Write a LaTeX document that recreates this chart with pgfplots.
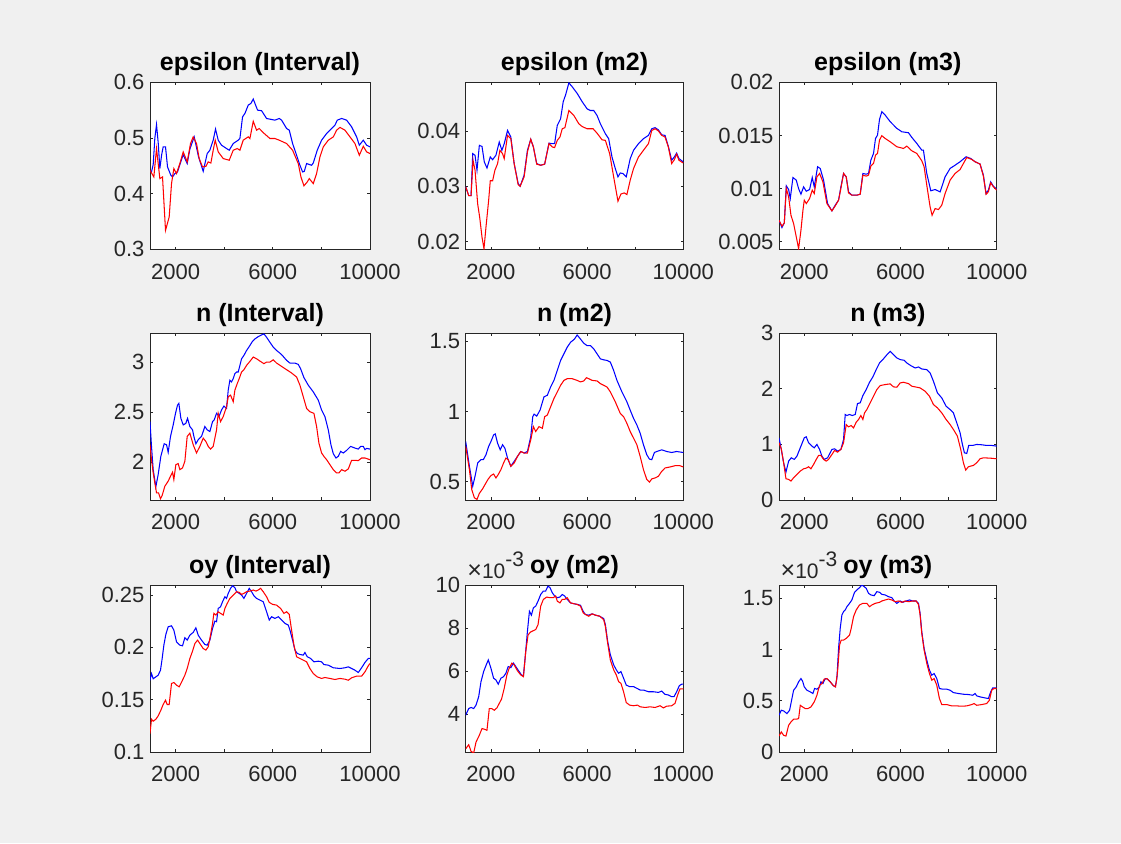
\documentclass[border=0pt]{standalone}
\usepackage{fontspec}
\setmainfont{Liberation Sans}
\usepackage{pgfplots}
\pgfplotsset{compat=1.18}
\definecolor{bggray}{HTML}{F0F0F0}
\definecolor{axisgray}{HTML}{262626}
\definecolor{mblue}{rgb}{0,0,1}
\definecolor{mred}{rgb}{1,0,0}
\pgfplotsset{
  mstyle/.style={
    scale only axis, anchor=north west, height=167pt,
    xmin=950, xmax=10000, clip mode=individual,
    xtick={2000,4000,6000,8000,10000}, xticklabels={2000,,6000,,10000},
    tick align=inside, tick pos=both, major tick length=2.6pt,
    axis line style={draw=axisgray, line width=0.9pt},
    tick style={axisgray, line width=0.9pt},
    tick label style={font=\fontsize{22}{22}\selectfont, text=axisgray},
    xticklabel style={yshift=-11pt},
    yticklabel style={xshift=-2pt},
    title style={font=\fontsize{25}{25}\selectfont\bfseries, at={(0.5,1)}, anchor=base, yshift=5.5pt},
    axis background/.style={fill=white},
    scaled ticks=false,
    every axis plot/.append style={line width=1.05pt, mark=none},
  },
  c1/.style={mstyle, width=220pt},
  c2/.style={mstyle, width=217.6pt},
  c3/.style={mstyle, width=217.7pt},
}
\newcommand{\expo}{\node[anchor=base west, font=\fontsize{21}{21}\selectfont, text=axisgray, inner sep=0pt] at (rel axis cs:0,1) [xshift=1.5pt, yshift=7pt] {{\fontsize{25}{25}\selectfont ×}10\raisebox{0.55em}{-3}};}
\begin{document}
\begin{tikzpicture}[x=1pt,y=1pt]
\fill[bggray] (0,0) rectangle (1121,-843);

% ---------------- Row 1 ----------------
\begin{axis}[c1, at={(150pt,-82.3pt)}, title={epsilon (Interval)},
  ymin=0.3, ymax=0.6, ytick={0.3,0.4,0.5,0.6}, yticklabels={0.3,0.4,0.5,0.6}]
\addplot[mblue] coordinates {(950,0.440)(1012,0.439)(1081,0.452)(1150,0.500)(1218,0.524)(1290,0.490)(1355,0.445)(1430,0.470)(1492,0.484)(1588,0.484)(1671,0.448)(1808,0.433)(1877,0.430)(1973,0.436)(2082,0.439)(2200,0.455)(2316,0.470)(2480,0.454)(2590,0.480)(2768,0.502)(2947,0.466)(3139,0.440)(3303,0.472)(3413,0.478)(3550,0.496)(3646,0.516)(3756,0.496)(3893,0.487)(4099,0.481)(4209,0.478)(4374,0.490)(4579,0.496)(4648,0.499)(4758,0.538)(4854,0.544)(4991,0.559)(5101,0.562)(5197,0.570)(5375,0.550)(5540,0.549)(5746,0.535)(6089,0.532)(6267,0.535)(6363,0.532)(6569,0.517)(6679,0.514)(6816,0.490)(6980,0.469)(7118,0.451)(7227,0.439)(7296,0.440)(7392,0.454)(7598,0.451)(7666,0.455)(7830,0.478)(8009,0.496)(8215,0.508)(8421,0.517)(8558,0.523)(8654,0.532)(8833,0.535)(9038,0.532)(9244,0.520)(9450,0.502)(9560,0.487)(9724,0.496)(9861,0.487)(10000,0.484)};
\addplot[mred] coordinates {(950,0.442)(1108,0.430)(1218,0.481)(1355,0.427)(1465,0.430)(1588,0.334)(1739,0.358)(1835,0.418)(1931,0.445)(2041,0.436)(2178,0.454)(2316,0.475)(2480,0.457)(2617,0.490)(2727,0.502)(2864,0.490)(2974,0.463)(3111,0.448)(3249,0.449)(3345,0.457)(3454,0.455)(3550,0.478)(3633,0.496)(3756,0.475)(3962,0.463)(4209,0.460)(4374,0.478)(4538,0.481)(4648,0.478)(4785,0.496)(4991,0.502)(5060,0.499)(5197,0.530)(5334,0.514)(5444,0.517)(5650,0.508)(5883,0.499)(6089,0.499)(6267,0.496)(6569,0.490)(6816,0.478)(7049,0.454)(7159,0.430)(7282,0.414)(7419,0.421)(7502,0.427)(7666,0.418)(7803,0.436)(7941,0.466)(8078,0.484)(8284,0.496)(8490,0.502)(8627,0.514)(8764,0.519)(8970,0.514)(9176,0.502)(9381,0.490)(9560,0.469)(9724,0.485)(9861,0.475)(10000,0.472)};
\end{axis}

\begin{axis}[c2, at={(465.7pt,-82.3pt)}, title={epsilon (m2)},
  ymin=0.0186, ymax=0.0488, ytick={0.02,0.03,0.04}, yticklabels={0.02,0.03,0.04}]
\addplot[mblue] coordinates {(950,0.0299)(1076,0.0283)(1173,0.0283)(1242,0.0359)(1338,0.0356)(1420,0.0329)(1517,0.0374)(1628,0.0372)(1724,0.0344)(1835,0.0333)(1972,0.0353)(2069,0.0348)(2207,0.0356)(2345,0.0380)(2455,0.0365)(2552,0.0377)(2690,0.0401)(2827,0.0389)(2965,0.0341)(3131,0.0305)(3214,0.0300)(3379,0.0320)(3517,0.0365)(3655,0.0385)(3765,0.0371)(3903,0.0341)(4069,0.0338)(4234,0.0340)(4413,0.0378)(4551,0.0377)(4648,0.0377)(4758,0.0410)(4896,0.0422)(5006,0.0453)(5103,0.0465)(5241,0.0487)(5379,0.0480)(5585,0.0468)(5792,0.0453)(5999,0.0440)(6137,0.0437)(6275,0.0437)(6413,0.0428)(6551,0.0413)(6758,0.0395)(6896,0.0386)(7034,0.0353)(7172,0.0332)(7282,0.0317)(7379,0.0324)(7489,0.0323)(7626,0.0317)(7792,0.0350)(7930,0.0365)(8137,0.0377)(8343,0.0386)(8550,0.0392)(8688,0.0404)(8826,0.0406)(8964,0.0402)(9102,0.0393)(9240,0.0392)(9378,0.0372)(9516,0.0347)(9626,0.0353)(9722,0.0360)(9819,0.0350)(10000,0.0344)};
\addplot[mred] coordinates {(950,0.0299)(1076,0.0283)(1173,0.0283)(1255,0.0347)(1338,0.0329)(1448,0.0268)(1531,0.0244)(1628,0.0208)(1710,0.0187)(1793,0.0226)(1903,0.0274)(1972,0.0310)(2069,0.0310)(2165,0.0329)(2276,0.0341)(2372,0.0365)(2483,0.0359)(2552,0.0350)(2690,0.0392)(2827,0.0386)(2965,0.0341)(3131,0.0303)(3214,0.0300)(3379,0.0317)(3517,0.0362)(3655,0.0385)(3765,0.0371)(3903,0.0340)(4069,0.0338)(4234,0.0340)(4413,0.0377)(4551,0.0371)(4648,0.0370)(4758,0.0383)(4869,0.0389)(4965,0.0404)(5075,0.0406)(5241,0.0437)(5448,0.0428)(5654,0.0413)(5792,0.0408)(5999,0.0404)(6247,0.0404)(6413,0.0396)(6620,0.0384)(6758,0.0383)(6937,0.0359)(7103,0.0317)(7282,0.0273)(7406,0.0286)(7544,0.0288)(7654,0.0285)(7792,0.0311)(7930,0.0332)(8137,0.0353)(8343,0.0365)(8550,0.0377)(8688,0.0401)(8826,0.0404)(8964,0.0400)(9102,0.0392)(9240,0.0389)(9378,0.0371)(9516,0.0341)(9626,0.0348)(9722,0.0358)(9819,0.0347)(10000,0.0342)};
\end{axis}

\begin{axis}[c3, at={(779pt,-82.3pt)}, title={epsilon (m3)},
  ymin=0.0043, ymax=0.02, ytick={0.005,0.01,0.015,0.02}, yticklabels={0.005,0.01,0.015,0.02}]
\addplot[mblue] coordinates {(950,0.00703)(1073,0.00634)(1170,0.00678)(1253,0.01027)(1350,0.00992)(1419,0.00907)(1529,0.01105)(1668,0.01080)(1765,0.01000)(1862,0.00948)(1972,0.01017)(2083,0.00976)(2221,0.00992)(2332,0.01105)(2415,0.01017)(2554,0.01206)(2664,0.01190)(2803,0.01080)(2969,0.00860)(3149,0.00791)(3287,0.00845)(3426,0.00892)(3522,0.01017)(3633,0.01143)(3744,0.01111)(3841,0.00970)(3979,0.00939)(4187,0.00939)(4325,0.00948)(4436,0.01143)(4574,0.01136)(4671,0.01143)(4768,0.01268)(4879,0.01331)(4962,0.01472)(5045,0.01504)(5128,0.01651)(5225,0.01724)(5363,0.01692)(5571,0.01630)(5848,0.01567)(6055,0.01535)(6332,0.01526)(6471,0.01482)(6679,0.01425)(6885,0.01362)(6954,0.01362)(7093,0.01143)(7259,0.00980)(7439,0.00992)(7647,0.00970)(7854,0.01111)(8062,0.01190)(8270,0.01221)(8477,0.01253)(8726,0.01300)(8920,0.01284)(9100,0.01253)(9308,0.01231)(9446,0.01127)(9557,0.00954)(9654,0.00986)(9750,0.01064)(9861,0.01023)(10000,0.00996)};
\addplot[mred] coordinates {(950,0.00703)(1073,0.00647)(1170,0.00678)(1253,0.01002)(1350,0.00923)(1447,0.00750)(1557,0.00672)(1668,0.00546)(1765,0.00436)(1862,0.00609)(1945,0.00797)(2000,0.00892)(2083,0.00860)(2221,0.00907)(2332,0.00986)(2415,0.00954)(2526,0.01111)(2637,0.01143)(2775,0.01064)(2941,0.00860)(3149,0.00791)(3287,0.00838)(3426,0.00892)(3522,0.01002)(3633,0.01143)(3744,0.01111)(3841,0.00960)(3979,0.00939)(4187,0.00939)(4325,0.00948)(4436,0.01127)(4574,0.01118)(4671,0.01127)(4768,0.01212)(4879,0.01237)(4962,0.01315)(5045,0.01331)(5128,0.01457)(5225,0.01498)(5363,0.01472)(5571,0.01441)(5848,0.01394)(6124,0.01378)(6263,0.01400)(6471,0.01356)(6679,0.01331)(6885,0.01262)(6982,0.01206)(7093,0.01033)(7231,0.00829)(7314,0.00750)(7439,0.00813)(7578,0.00804)(7716,0.00845)(7854,0.00954)(8062,0.01080)(8270,0.01143)(8477,0.01180)(8754,0.01293)(8962,0.01275)(9100,0.01253)(9308,0.01231)(9446,0.01118)(9557,0.00948)(9654,0.00970)(9750,0.01055)(9861,0.01017)(10000,0.00986)};
\end{axis}

% ---------------- Row 2 ----------------
\begin{axis}[c1, at={(150pt,-333pt)}, title={n (Interval)},
  ymin=1.624, ymax=3.29, ytick={2,2.5,3}, yticklabels={2,2.5,3}]
\addplot[mblue] coordinates {(950,2.406)(1012,2.158)(1081,1.927)(1190,1.756)(1286,1.878)(1396,2.060)(1533,2.185)(1630,2.175)(1698,2.100)(1794,2.258)(1904,2.373)(2000,2.489)(2082,2.571)(2137,2.588)(2220,2.439)(2316,2.373)(2425,2.389)(2494,2.439)(2590,2.357)(2700,2.324)(2755,2.258)(2837,2.185)(2933,2.225)(3070,2.258)(3207,2.357)(3303,2.324)(3413,2.307)(3523,2.406)(3591,2.423)(3688,2.489)(3797,2.462)(3893,2.522)(3989,2.561)(4099,2.538)(4168,2.720)(4236,2.819)(4305,2.802)(4374,2.835)(4442,2.885)(4511,2.901)(4579,2.901)(4648,2.967)(4717,3.033)(4813,3.066)(4923,3.116)(5032,3.155)(5169,3.208)(5265,3.231)(5403,3.254)(5540,3.271)(5636,3.281)(5746,3.248)(5883,3.198)(6020,3.149)(6157,3.116)(6294,3.089)(6432,3.056)(6569,3.017)(6706,2.990)(6912,2.990)(7049,2.977)(7145,2.934)(7282,2.845)(7461,2.769)(7666,2.703)(7872,2.620)(8009,2.522)(8146,2.456)(8284,2.324)(8393,2.175)(8490,2.086)(8600,2.043)(8696,2.060)(8792,2.109)(8901,2.093)(9038,2.119)(9203,2.159)(9381,2.142)(9518,2.132)(9615,2.159)(9724,2.159)(9793,2.126)(9861,2.139)(10000,2.132)};
\addplot[mred] coordinates {(950,2.175)(1012,2.027)(1081,1.895)(1149,1.795)(1218,1.696)(1300,1.696)(1382,1.637)(1451,1.670)(1561,1.762)(1698,1.812)(1794,1.861)(1877,1.901)(1931,1.828)(2014,1.977)(2110,1.987)(2178,1.927)(2288,1.944)(2384,2.010)(2480,2.258)(2590,2.291)(2727,2.175)(2864,2.093)(3001,2.159)(3139,2.241)(3249,2.208)(3345,2.159)(3441,2.132)(3550,2.159)(3688,2.324)(3756,2.489)(3852,2.406)(3962,2.456)(4099,2.555)(4168,2.654)(4264,2.670)(4374,2.604)(4442,2.720)(4538,2.785)(4620,2.835)(4717,2.901)(4813,2.924)(4923,2.967)(5060,3.007)(5197,3.050)(5334,3.033)(5471,3.010)(5636,2.984)(5746,3.000)(5883,3.000)(6020,3.023)(6157,2.990)(6363,2.957)(6569,2.924)(6775,2.891)(6980,2.851)(7118,2.769)(7255,2.654)(7392,2.538)(7529,2.505)(7694,2.488)(7803,2.357)(7899,2.191)(8009,2.093)(8105,2.059)(8215,2.026)(8352,1.977)(8490,1.927)(8627,1.894)(8723,1.894)(8833,1.927)(8970,1.911)(9107,1.934)(9244,2.020)(9381,2.020)(9518,2.017)(9655,2.043)(9793,2.043)(10000,2.026)};
\end{axis}

\begin{axis}[c2, at={(465.7pt,-333pt)}, title={n (m2)},
  ymin=0.371, ymax=1.559, ytick={0.5,1,1.5}, yticklabels={0.5,1,1.5}]
\addplot[mblue] coordinates {(950,0.787)(1104,0.611)(1242,0.469)(1338,0.540)(1448,0.634)(1586,0.658)(1683,0.658)(1793,0.693)(1903,0.752)(2000,0.787)(2110,0.834)(2179,0.841)(2276,0.775)(2386,0.728)(2483,0.764)(2579,0.740)(2690,0.669)(2827,0.611)(2965,0.646)(3103,0.681)(3241,0.716)(3379,0.705)(3517,0.716)(3655,0.822)(3738,0.963)(3793,0.982)(3903,0.968)(4041,1.010)(4206,1.105)(4344,1.116)(4482,1.175)(4620,1.222)(4758,1.293)(4896,1.364)(5034,1.411)(5172,1.458)(5310,1.493)(5475,1.516)(5585,1.545)(5723,1.516)(5861,1.486)(5999,1.469)(6137,1.469)(6275,1.446)(6413,1.411)(6551,1.375)(6689,1.368)(6827,1.364)(6965,1.352)(7103,1.293)(7241,1.222)(7447,1.140)(7654,1.069)(7792,1.010)(7930,0.952)(8068,0.905)(8206,0.846)(8343,0.764)(8481,0.693)(8592,0.662)(8688,0.658)(8798,0.709)(8895,0.716)(9102,0.728)(9309,0.716)(9516,0.709)(9722,0.716)(10000,0.709)};
\addplot[mred] coordinates {(950,0.752)(1104,0.587)(1200,0.446)(1310,0.387)(1421,0.375)(1517,0.418)(1655,0.451)(1793,0.493)(1890,0.521)(2000,0.545)(2110,0.556)(2207,0.528)(2303,0.552)(2414,0.587)(2524,0.634)(2621,0.669)(2717,0.658)(2827,0.611)(2965,0.634)(3103,0.681)(3241,0.716)(3379,0.705)(3517,0.705)(3655,0.799)(3765,0.893)(3862,0.858)(4000,0.893)(4138,0.881)(4234,0.964)(4344,0.975)(4482,1.034)(4620,1.093)(4758,1.140)(4896,1.187)(5034,1.222)(5172,1.234)(5379,1.234)(5585,1.222)(5723,1.211)(5861,1.218)(5971,1.241)(6068,1.234)(6206,1.222)(6413,1.218)(6551,1.199)(6689,1.187)(6827,1.175)(6965,1.140)(7172,1.069)(7379,0.987)(7516,0.964)(7654,0.916)(7792,0.858)(7930,0.811)(8068,0.764)(8206,0.681)(8343,0.587)(8481,0.517)(8592,0.498)(8688,0.521)(8826,0.528)(8964,0.540)(9102,0.575)(9240,0.599)(9447,0.606)(9654,0.615)(9860,0.615)(10000,0.606)};
\end{axis}

\begin{axis}[c3, at={(779pt,-333pt)}, title={n (m3)},
  ymin=0, ymax=3, ytick={0,1,2,3}, yticklabels={0,1,2,3}]
\addplot[mblue] coordinates {(950,1.117)(1045,0.908)(1142,0.669)(1239,0.501)(1350,0.699)(1460,0.758)(1585,0.729)(1696,0.788)(1806,0.908)(1917,1.027)(2000,1.117)(2083,1.135)(2180,1.027)(2318,0.968)(2415,0.938)(2526,0.998)(2637,0.908)(2734,0.788)(2830,0.729)(2969,0.758)(3149,0.908)(3259,0.920)(3384,0.878)(3522,0.908)(3633,1.087)(3702,1.536)(3772,1.518)(3882,1.536)(3993,1.518)(4118,1.536)(4214,1.733)(4325,1.745)(4436,1.876)(4574,1.984)(4713,2.115)(4851,2.211)(4990,2.342)(5128,2.462)(5266,2.522)(5405,2.594)(5571,2.671)(5709,2.611)(5848,2.552)(5986,2.522)(6152,2.510)(6263,2.462)(6429,2.414)(6609,2.372)(6747,2.390)(6885,2.354)(7093,2.342)(7231,2.283)(7370,2.133)(7536,1.924)(7716,1.834)(7896,1.685)(8062,1.625)(8200,1.565)(8339,1.386)(8477,1.207)(8574,0.998)(8657,0.848)(8754,0.836)(8837,0.980)(9003,0.980)(9169,0.998)(9377,0.992)(9584,0.980)(9792,0.980)(10000,0.968)};
\addplot[mred] coordinates {(950,1.027)(1045,0.920)(1142,0.669)(1239,0.382)(1350,0.370)(1447,0.340)(1557,0.400)(1696,0.460)(1834,0.519)(1972,0.561)(2083,0.573)(2180,0.597)(2277,0.561)(2387,0.639)(2498,0.729)(2595,0.800)(2692,0.800)(2803,0.729)(2913,0.699)(3010,0.729)(3149,0.818)(3259,0.890)(3384,0.860)(3522,0.908)(3633,1.027)(3744,1.356)(3841,1.314)(3951,1.338)(4048,1.296)(4159,1.398)(4256,1.446)(4353,1.518)(4436,1.446)(4505,1.565)(4602,1.625)(4740,1.745)(4879,1.864)(5017,1.984)(5156,2.056)(5363,2.074)(5571,2.086)(5709,2.032)(5848,2.026)(5986,2.103)(6124,2.115)(6332,2.091)(6471,2.044)(6609,2.032)(6816,2.014)(7024,1.954)(7204,1.864)(7370,1.715)(7536,1.655)(7716,1.565)(7896,1.446)(8062,1.356)(8200,1.267)(8366,1.147)(8505,0.908)(8615,0.669)(8712,0.537)(8823,0.597)(8920,0.609)(9031,0.621)(9169,0.669)(9308,0.741)(9446,0.758)(9723,0.752)(10000,0.741)};
\end{axis}

% ---------------- Row 3 ----------------
\begin{axis}[c1, at={(150pt,-585pt)}, title={oy (Interval)},
  ymin=0.1, ymax=0.2596, ytick={0.1,0.15,0.2,0.25}, yticklabels={0.1,0.15,0.2,0.25}]
\addplot[mblue] coordinates {(950,0.1686)(1012,0.1750)(1081,0.1700)(1190,0.1718)(1286,0.1734)(1382,0.1782)(1451,0.1894)(1520,0.2021)(1602,0.2124)(1698,0.2197)(1835,0.2206)(1931,0.2165)(2041,0.2053)(2178,0.2021)(2288,0.2015)(2384,0.2092)(2480,0.2069)(2590,0.2117)(2727,0.2143)(2837,0.2187)(2933,0.2117)(3070,0.2069)(3207,0.2028)(3303,0.2021)(3413,0.2069)(3523,0.2181)(3619,0.2251)(3688,0.2245)(3756,0.2372)(3852,0.2388)(3934,0.2436)(4030,0.2484)(4099,0.2468)(4168,0.2516)(4264,0.2564)(4346,0.2589)(4442,0.2570)(4511,0.2532)(4620,0.2516)(4717,0.2500)(4813,0.2468)(4923,0.2516)(5032,0.2564)(5128,0.2532)(5224,0.2494)(5334,0.2468)(5471,0.2452)(5609,0.2436)(5677,0.2388)(5746,0.2340)(5856,0.2261)(5952,0.2293)(6089,0.2277)(6226,0.2293)(6363,0.2261)(6500,0.2229)(6638,0.2213)(6706,0.2165)(6816,0.2069)(6912,0.1974)(7008,0.1942)(7118,0.1932)(7255,0.1926)(7323,0.1951)(7419,0.1910)(7557,0.1894)(7694,0.1862)(7872,0.1868)(8009,0.1862)(8105,0.1836)(8284,0.1830)(8490,0.1805)(8764,0.1798)(8970,0.1805)(9107,0.1814)(9244,0.1798)(9381,0.1782)(9518,0.1760)(9655,0.1805)(9793,0.1856)(9930,0.1894)(10000,0.1894)};
\addplot[mred] coordinates {(950,0.1176)(1012,0.1313)(1081,0.1294)(1190,0.1313)(1286,0.1345)(1396,0.1399)(1492,0.1454)(1588,0.1495)(1657,0.1454)(1739,0.1454)(1835,0.1655)(1931,0.1664)(2041,0.1639)(2151,0.1623)(2288,0.1687)(2384,0.1734)(2480,0.1798)(2590,0.1894)(2700,0.1964)(2796,0.2037)(2906,0.2069)(3001,0.2037)(3139,0.1989)(3249,0.1974)(3345,0.2005)(3441,0.2117)(3523,0.2229)(3578,0.2325)(3660,0.2309)(3756,0.2340)(3852,0.2325)(3962,0.2309)(4030,0.2372)(4127,0.2420)(4236,0.2468)(4374,0.2500)(4511,0.2532)(4620,0.2526)(4717,0.2506)(4813,0.2516)(4923,0.2532)(5060,0.2538)(5197,0.2548)(5307,0.2538)(5403,0.2548)(5499,0.2564)(5609,0.2532)(5746,0.2484)(5856,0.2430)(5993,0.2411)(6157,0.2404)(6322,0.2372)(6459,0.2325)(6569,0.2340)(6679,0.2315)(6775,0.2165)(6871,0.2021)(6980,0.1910)(7118,0.1894)(7255,0.1878)(7392,0.1862)(7529,0.1798)(7666,0.1750)(7830,0.1718)(8009,0.1703)(8146,0.1712)(8352,0.1703)(8558,0.1693)(8764,0.1703)(8970,0.1696)(9107,0.1686)(9244,0.1709)(9450,0.1725)(9655,0.1725)(9793,0.1766)(9930,0.1824)(10000,0.1846)};
\end{axis}

\begin{axis}[c2, at={(465.7pt,-585pt)}, title={oy (m2)},
  ymin=2.24, ymax=10, ytick={4,6,8,10}, yticklabels={4,6,8,10}]
\addplot[mblue] coordinates {(950,3.95)(1076,4.26)(1173,4.31)(1283,4.26)(1379,4.42)(1490,4.81)(1586,5.51)(1697,5.98)(1793,6.26)(1890,6.52)(2000,6.13)(2110,5.67)(2207,5.59)(2303,5.39)(2414,5.67)(2524,5.74)(2621,5.90)(2717,6.21)(2827,6.16)(2938,6.37)(3034,6.21)(3172,5.98)(3269,5.82)(3351,5.79)(3420,6.60)(3517,7.85)(3600,8.78)(3682,8.60)(3765,8.94)(3862,9.02)(3958,9.25)(4069,9.56)(4179,9.72)(4275,9.72)(4372,9.95)(4455,9.88)(4551,9.64)(4648,9.49)(4758,9.41)(4868,9.44)(4965,9.56)(5062,9.49)(5172,9.33)(5310,9.17)(5448,9.13)(5585,9.10)(5723,9.06)(5834,8.78)(5930,8.63)(6068,8.60)(6206,8.66)(6344,8.60)(6523,8.55)(6689,8.44)(6758,8.16)(6854,7.38)(6965,6.76)(7103,6.29)(7213,6.06)(7309,5.90)(7406,5.98)(7516,5.67)(7626,5.35)(7764,5.28)(7930,5.28)(8068,5.20)(8206,5.12)(8343,5.12)(8550,5.04)(8757,5.04)(8964,5.01)(9102,5.07)(9240,4.92)(9378,4.89)(9516,4.81)(9612,4.81)(9722,5.04)(9833,5.32)(9930,5.39)(10000,5.39)};
\addplot[mred] coordinates {(950,2.39)(1076,2.58)(1173,2.27)(1283,2.20)(1379,2.70)(1517,3.02)(1628,3.33)(1724,3.30)(1834,3.25)(1931,4.26)(2028,4.26)(2138,4.18)(2248,4.29)(2345,4.50)(2441,4.70)(2552,5.20)(2662,5.82)(2758,6.13)(2869,6.37)(2965,6.29)(3103,6.01)(3241,5.82)(3351,5.74)(3448,6.91)(3545,7.69)(3655,7.82)(3765,7.88)(3862,7.93)(3958,8.16)(4069,9.02)(4179,9.33)(4317,9.44)(4455,9.41)(4593,9.41)(4689,9.49)(4758,9.25)(4868,9.17)(4965,9.33)(5062,9.33)(5172,9.41)(5310,9.17)(5448,9.13)(5585,9.10)(5723,9.02)(5834,8.71)(5930,8.63)(6068,8.55)(6206,8.66)(6344,8.60)(6523,8.55)(6689,8.39)(6758,8.08)(6854,7.30)(6965,6.52)(7103,6.06)(7213,5.82)(7309,5.51)(7406,5.43)(7516,5.04)(7626,4.54)(7764,4.42)(7930,4.39)(8096,4.42)(8206,4.34)(8412,4.31)(8619,4.34)(8826,4.31)(9033,4.39)(9171,4.29)(9309,4.37)(9516,4.39)(9654,4.50)(9764,4.89)(9860,5.17)(10000,5.17)};
\expo
\end{axis}

\begin{axis}[c3, at={(779pt,-585pt)}, title={oy (m3)},
  ymin=0, ymax=1.63, ytick={0,0.5,1,1.5}, yticklabels={0,0.5,1,1.5}]
\addplot[mblue] coordinates {(950,0.359)(1045,0.408)(1142,0.401)(1280,0.375)(1391,0.408)(1460,0.489)(1557,0.603)(1668,0.636)(1765,0.685)(1862,0.717)(1931,0.691)(2000,0.636)(2111,0.603)(2249,0.587)(2360,0.571)(2429,0.620)(2526,0.613)(2637,0.636)(2692,0.685)(2775,0.668)(2872,0.717)(2969,0.711)(3080,0.685)(3190,0.652)(3287,0.636)(3356,0.717)(3426,1.011)(3495,1.207)(3564,1.337)(3633,1.370)(3702,1.386)(3772,1.418)(3882,1.451)(3979,1.484)(4090,1.559)(4187,1.582)(4297,1.604)(4394,1.630)(4491,1.614)(4574,1.598)(4671,1.549)(4768,1.533)(4906,1.526)(5017,1.565)(5128,1.559)(5225,1.539)(5363,1.533)(5502,1.516)(5640,1.507)(5737,1.474)(5848,1.451)(5986,1.474)(6097,1.461)(6235,1.474)(6373,1.484)(6512,1.474)(6650,1.474)(6747,1.451)(6816,1.353)(6885,1.174)(6982,1.011)(7093,0.897)(7204,0.799)(7301,0.750)(7398,0.766)(7508,0.717)(7619,0.620)(7758,0.613)(7924,0.613)(8062,0.603)(8200,0.580)(8408,0.571)(8616,0.564)(8823,0.561)(9003,0.554)(9100,0.571)(9169,0.548)(9308,0.538)(9515,0.528)(9654,0.522)(9750,0.587)(9833,0.626)(10000,0.626)};
\addplot[mred] coordinates {(950,0.156)(1045,0.196)(1142,0.163)(1239,0.156)(1350,0.261)(1447,0.293)(1557,0.320)(1668,0.320)(1765,0.326)(1834,0.456)(1931,0.440)(2041,0.424)(2152,0.424)(2277,0.440)(2415,0.489)(2526,0.554)(2637,0.652)(2734,0.668)(2830,0.711)(2941,0.717)(3080,0.685)(3218,0.646)(3301,0.636)(3384,0.783)(3467,1.043)(3536,1.092)(3633,1.092)(3744,1.109)(3882,1.141)(3951,1.207)(4048,1.321)(4159,1.386)(4297,1.435)(4436,1.451)(4602,1.451)(4713,1.418)(4809,1.435)(4948,1.451)(5128,1.461)(5225,1.474)(5363,1.484)(5502,1.493)(5640,1.484)(5778,1.467)(5917,1.474)(6055,1.461)(6193,1.474)(6332,1.467)(6512,1.474)(6650,1.474)(6747,1.441)(6816,1.337)(6885,1.158)(6982,0.995)(7093,0.864)(7204,0.766)(7301,0.701)(7398,0.717)(7508,0.652)(7619,0.522)(7716,0.463)(7924,0.463)(8131,0.450)(8339,0.450)(8547,0.447)(8754,0.450)(8962,0.463)(9059,0.473)(9169,0.456)(9377,0.463)(9584,0.473)(9695,0.505)(9792,0.603)(9889,0.620)(10000,0.620)};
\expo
\end{axis}
\end{tikzpicture}
\end{document}
